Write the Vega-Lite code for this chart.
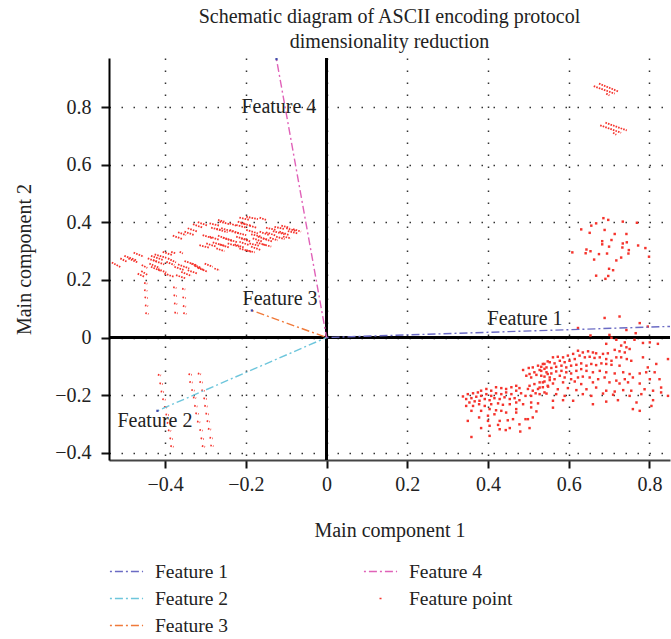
{
"$schema": "https://vega.github.io/schema/vega-lite/v6.json",
"width": 561, "height": 402,
"padding": {"left": 14, "top": 7, "right": 0, "bottom": 0},
"config": {"font": "Liberation Serif", "view": {"stroke": null},
  "axis": {"labelFont": "Liberation Serif", "titleFont": "Liberation Serif", "labelFontSize": 20, "titleFontSize": 20, "titleFontWeight": "normal", "labelColor": "#222", "titleColor": "#222", "grid": true, "gridDash": [1.5, 10.5], "gridColor": "#333", "gridWidth": 1.5, "tickWidth": 2, "tickSize": 8, "tickColor": "#111", "domainWidth": 2}},
"title": {"text": ["Schematic diagram of ASCII encoding protocol", "dimensionality reduction"], "fontSize": 20, "fontWeight": "normal", "font": "Liberation Serif", "color": "#222", "lineHeight": 25, "offset": 5},
"datasets": {
"vectors": [
{"feature":"Feature 1","x":0,"y":0},{"feature":"Feature 1","x":0.95,"y":0.043},
{"feature":"Feature 2","x":0,"y":0},{"feature":"Feature 2","x":-0.419,"y":-0.255},
{"feature":"Feature 3","x":0,"y":0},{"feature":"Feature 3","x":-0.185,"y":0.094},
{"feature":"Feature 4","x":0,"y":0},{"feature":"Feature 4","x":-0.124,"y":0.968}],
"tips": [{"x":-0.419,"y":-0.255},{"x":-0.185,"y":0.094},{"x":-0.124,"y":0.968}],
"labels": [{"label":"Feature 1","x":0.399,"y":0.066},{"label":"Feature 2","x":-0.518,"y":-0.29},{"label":"Feature 3","x":-0.208,"y":0.133},{"label":"Feature 4","x":-0.211,"y":0.803}],
"streaks": [
{"x":-0.532,"y":0.261,"x2":-0.511,"y2":0.245},{"x":-0.511,"y":0.275,"x2":-0.494,"y2":0.263},{"x":-0.501,"y":0.284,"x2":-0.472,"y2":0.269},{"x":-0.491,"y":0.275,"x2":-0.468,"y2":0.261},{"x":-0.478,"y":0.295,"x2":-0.453,"y2":0.281},{"x":-0.458,"y":0.252,"x2":-0.444,"y2":0.242},{"x":-0.443,"y":0.275,"x2":-0.418,"y2":0.263},{"x":-0.435,"y":0.284,"x2":-0.406,"y2":0.270},{"x":-0.430,"y":0.269,"x2":-0.402,"y2":0.254},{"x":-0.426,"y":0.289,"x2":-0.397,"y2":0.277},{"x":-0.439,"y":0.257,"x2":-0.414,"y2":0.242},{"x":-0.435,"y":0.246,"x2":-0.410,"y2":0.231},{"x":-0.418,"y":0.238,"x2":-0.397,"y2":0.226},{"x":-0.459,"y":0.231,"x2":-0.443,"y2":0.217},{"x":-0.468,"y":0.222,"x2":-0.451,"y2":0.211},{"x":-0.406,"y":0.298,"x2":-0.381,"y2":0.286},{"x":-0.393,"y":0.275,"x2":-0.373,"y2":0.261},{"x":-0.377,"y":0.246,"x2":-0.352,"y2":0.234},{"x":-0.368,"y":0.254,"x2":-0.340,"y2":0.240},{"x":-0.352,"y":0.266,"x2":-0.323,"y2":0.252},{"x":-0.335,"y":0.257,"x2":-0.311,"y2":0.242},{"x":-0.344,"y":0.234,"x2":-0.319,"y2":0.222},{"x":-0.360,"y":0.228,"x2":-0.335,"y2":0.214},{"x":-0.373,"y":0.217,"x2":-0.348,"y2":0.205},{"x":-0.319,"y":0.242,"x2":-0.294,"y2":0.228},{"x":-0.302,"y":0.257,"x2":-0.282,"y2":0.246},{"x":-0.278,"y":0.240,"x2":-0.265,"y2":0.234},{"x":-0.385,"y":0.298,"x2":-0.373,"y2":0.292},{"x":-0.364,"y":0.298,"x2":-0.356,"y2":0.292},{"x":-0.402,"y":0.222,"x2":-0.377,"y2":0.211},{"x":-0.397,"y":0.263,"x2":-0.377,"y2":0.252},{"x":-0.327,"y":0.249,"x2":-0.302,"y2":0.234},
{"x":-0.269,"y":0.409,"x2":-0.253,"y2":0.403},{"x":-0.216,"y":0.417,"x2":-0.191,"y2":0.409},{"x":-0.199,"y":0.420,"x2":-0.170,"y2":0.412},{"x":-0.166,"y":0.417,"x2":-0.150,"y2":0.409},{"x":-0.220,"y":0.403,"x2":-0.199,"y2":0.394},
{"x":-0.331,"y":0.394,"x2":-0.307,"y2":0.382},{"x":-0.319,"y":0.401,"x2":-0.294,"y2":0.389},{"x":-0.290,"y":0.397,"x2":-0.265,"y2":0.389},{"x":-0.265,"y":0.403,"x2":-0.240,"y2":0.394},{"x":-0.240,"y":0.397,"x2":-0.224,"y2":0.389},{"x":-0.224,"y":0.391,"x2":-0.199,"y2":0.382},{"x":-0.212,"y":0.397,"x2":-0.187,"y2":0.389},{"x":-0.191,"y":0.389,"x2":-0.174,"y2":0.382},{"x":-0.150,"y":0.382,"x2":-0.125,"y2":0.374},{"x":-0.129,"y":0.385,"x2":-0.104,"y2":0.377},{"x":-0.112,"y":0.389,"x2":-0.092,"y2":0.382},{"x":-0.100,"y":0.380,"x2":-0.075,"y2":0.370},
{"x":-0.352,"y":0.368,"x2":-0.327,"y2":0.356},{"x":-0.344,"y":0.380,"x2":-0.319,"y2":0.368},{"x":-0.286,"y":0.382,"x2":-0.261,"y2":0.374},{"x":-0.273,"y":0.377,"x2":-0.245,"y2":0.366},{"x":-0.261,"y":0.380,"x2":-0.232,"y2":0.368},{"x":-0.240,"y":0.374,"x2":-0.216,"y2":0.362},{"x":-0.228,"y":0.366,"x2":-0.199,"y2":0.356},{"x":-0.199,"y":0.374,"x2":-0.170,"y2":0.362},{"x":-0.187,"y":0.359,"x2":-0.162,"y2":0.351},{"x":-0.166,"y":0.368,"x2":-0.141,"y2":0.356},{"x":-0.150,"y":0.366,"x2":-0.125,"y2":0.354},{"x":-0.133,"y":0.370,"x2":-0.104,"y2":0.359},{"x":-0.117,"y":0.368,"x2":-0.092,"y2":0.356},{"x":-0.096,"y":0.370,"x2":-0.071,"y2":0.362},{"x":-0.083,"y":0.377,"x2":-0.063,"y2":0.368},
{"x":-0.381,"y":0.354,"x2":-0.356,"y2":0.342},{"x":-0.368,"y":0.366,"x2":-0.348,"y2":0.356},{"x":-0.307,"y":0.356,"x2":-0.282,"y2":0.345},{"x":-0.290,"y":0.351,"x2":-0.265,"y2":0.339},{"x":-0.269,"y":0.354,"x2":-0.245,"y2":0.342},{"x":-0.257,"y":0.347,"x2":-0.232,"y2":0.335},{"x":-0.245,"y":0.342,"x2":-0.220,"y2":0.331},{"x":-0.224,"y":0.351,"x2":-0.195,"y2":0.339},{"x":-0.212,"y":0.345,"x2":-0.187,"y2":0.333},{"x":-0.183,"y":0.345,"x2":-0.158,"y2":0.333},{"x":-0.170,"y":0.351,"x2":-0.145,"y2":0.339},{"x":-0.158,"y":0.345,"x2":-0.133,"y2":0.333},{"x":-0.141,"y":0.347,"x2":-0.121,"y2":0.338},{"x":-0.125,"y":0.351,"x2":-0.104,"y2":0.342},{"x":-0.108,"y":0.351,"x2":-0.088,"y2":0.345},
{"x":-0.315,"y":0.321,"x2":-0.290,"y2":0.312},{"x":-0.298,"y":0.327,"x2":-0.273,"y2":0.316},{"x":-0.282,"y":0.331,"x2":-0.253,"y2":0.319},{"x":-0.265,"y":0.324,"x2":-0.240,"y2":0.312},{"x":-0.245,"y":0.327,"x2":-0.216,"y2":0.316},{"x":-0.228,"y":0.324,"x2":-0.203,"y2":0.312},{"x":-0.216,"y":0.333,"x2":-0.191,"y2":0.321},{"x":-0.191,"y":0.327,"x2":-0.166,"y2":0.319},{"x":-0.174,"y":0.331,"x2":-0.150,"y2":0.321},{"x":-0.158,"y":0.324,"x2":-0.137,"y2":0.316},{"x":-0.187,"y":0.316,"x2":-0.162,"y2":0.304},{"x":-0.273,"y":0.310,"x2":-0.253,"y2":0.300},{"x":-0.216,"y":0.310,"x2":-0.187,"y2":0.298},{"x":-0.199,"y":0.304,"x2":-0.178,"y2":0.296},
{"x":0.675,"y":0.883,"x2":0.724,"y2":0.855},{"x":0.662,"y":0.874,"x2":0.714,"y2":0.848},{"x":0.693,"y":0.848,"x2":0.701,"y2":0.842},{"x":0.691,"y":0.747,"x2":0.744,"y2":0.720},{"x":0.678,"y":0.738,"x2":0.730,"y2":0.712},{"x":0.710,"y":0.712,"x2":0.718,"y2":0.705},
{"x":-0.452,"y":0.190,"x2":-0.444,"y2":0.187},{"x":-0.452,"y":0.165,"x2":-0.444,"y2":0.162},{"x":-0.451,"y":0.140,"x2":-0.443,"y2":0.137},{"x":-0.450,"y":0.112,"x2":-0.442,"y2":0.109},{"x":-0.449,"y":0.085,"x2":-0.441,"y2":0.082},
{"x":-0.380,"y":0.175,"x2":-0.372,"y2":0.172},{"x":-0.379,"y":0.147,"x2":-0.371,"y2":0.144},{"x":-0.378,"y":0.119,"x2":-0.370,"y2":0.116},{"x":-0.377,"y":0.087,"x2":-0.369,"y2":0.084},
{"x":-0.358,"y":0.170,"x2":-0.350,"y2":0.167},{"x":-0.357,"y":0.140,"x2":-0.349,"y2":0.137},{"x":-0.356,"y":0.110,"x2":-0.348,"y2":0.107},{"x":-0.355,"y":0.085,"x2":-0.347,"y2":0.082},
{"x":-0.418,"y":-0.129,"x2":-0.410,"y2":-0.132},{"x":-0.414,"y":-0.159,"x2":-0.406,"y2":-0.162},{"x":-0.411,"y":-0.187,"x2":-0.403,"y2":-0.190},{"x":-0.407,"y":-0.214,"x2":-0.399,"y2":-0.217},{"x":-0.403,"y":-0.241,"x2":-0.395,"y2":-0.244},{"x":-0.399,"y":-0.267,"x2":-0.391,"y2":-0.270},{"x":-0.396,"y":-0.296,"x2":-0.388,"y2":-0.299},{"x":-0.393,"y":-0.322,"x2":-0.385,"y2":-0.325},{"x":-0.389,"y":-0.350,"x2":-0.381,"y2":-0.353},{"x":-0.387,"y":-0.377,"x2":-0.379,"y2":-0.380},
{"x":-0.342,"y":-0.127,"x2":-0.334,"y2":-0.130},{"x":-0.340,"y":-0.154,"x2":-0.332,"y2":-0.157},{"x":-0.335,"y":-0.182,"x2":-0.327,"y2":-0.185},{"x":-0.331,"y":-0.208,"x2":-0.323,"y2":-0.211},{"x":-0.328,"y":-0.237,"x2":-0.320,"y2":-0.240},{"x":-0.325,"y":-0.263,"x2":-0.317,"y2":-0.266},{"x":-0.321,"y":-0.292,"x2":-0.313,"y2":-0.295},{"x":-0.315,"y":-0.321,"x2":-0.307,"y2":-0.324},{"x":-0.312,"y":-0.350,"x2":-0.304,"y2":-0.353},{"x":-0.309,"y":-0.377,"x2":-0.301,"y2":-0.380},
{"x":-0.319,"y":-0.125,"x2":-0.311,"y2":-0.128},{"x":-0.315,"y":-0.154,"x2":-0.307,"y2":-0.157},{"x":-0.310,"y":-0.183,"x2":-0.302,"y2":-0.186},{"x":-0.305,"y":-0.211,"x2":-0.297,"y2":-0.214},{"x":-0.303,"y":-0.237,"x2":-0.295,"y2":-0.240},{"x":-0.300,"y":-0.264,"x2":-0.292,"y2":-0.267},{"x":-0.297,"y":-0.290,"x2":-0.289,"y2":-0.293},{"x":-0.294,"y":-0.317,"x2":-0.286,"y2":-0.320},{"x":-0.290,"y":-0.348,"x2":-0.282,"y2":-0.351},{"x":-0.288,"y":-0.375,"x2":-0.280,"y2":-0.378}
],
"points": [
{"x":0.686,"y":0.415},{"x":0.698,"y":0.409},{"x":0.668,"y":0.397},{"x":0.656,"y":0.389},{"x":0.631,"y":0.376},{"x":0.652,"y":0.364},{"x":0.689,"y":0.374},{"x":0.734,"y":0.403},{"x":0.769,"y":0.399},{"x":0.714,"y":0.360},{"x":0.743,"y":0.360},{"x":0.683,"y":0.335},{"x":0.706,"y":0.339},{"x":0.683,"y":0.324},{"x":0.700,"y":0.316},{"x":0.734,"y":0.327},{"x":0.744,"y":0.331},{"x":0.733,"y":0.313},{"x":0.772,"y":0.320},{"x":0.790,"y":0.311},{"x":0.644,"y":0.306},{"x":0.654,"y":0.300},{"x":0.609,"y":0.296},{"x":0.642,"y":0.293},{"x":0.675,"y":0.290},{"x":0.695,"y":0.292},{"x":0.749,"y":0.304},{"x":0.748,"y":0.292},{"x":0.730,"y":0.278},{"x":0.718,"y":0.268},{"x":0.663,"y":0.271},{"x":0.799,"y":0.281},{"x":0.700,"y":0.239},{"x":0.710,"y":0.234},{"x":0.668,"y":0.215},{"x":0.691,"y":0.204},{"x":0.698,"y":0.214},
{"x":0.548,"y":-0.083},{"x":0.536,"y":-0.092},{"x":0.524,"y":-0.098},{"x":0.511,"y":-0.104},{"x":0.501,"y":-0.106},{"x":0.540,"y":-0.109},{"x":0.528,"y":-0.113},{"x":0.515,"y":-0.121},{"x":0.503,"y":-0.127},{"x":0.487,"y":-0.113},{"x":0.548,"y":-0.127},{"x":0.532,"y":-0.133},{"x":0.520,"y":-0.130},{"x":0.507,"y":-0.139},{"x":0.495,"y":-0.133},{"x":0.553,"y":-0.148},{"x":0.540,"y":-0.153},{"x":0.528,"y":-0.156},{"x":0.515,"y":-0.162},{"x":0.503,"y":-0.168},{"x":0.548,"y":-0.168},{"x":0.536,"y":-0.173},{"x":0.524,"y":-0.179},{"x":0.511,"y":-0.185},{"x":0.499,"y":-0.179},{"x":0.540,"y":-0.191},{"x":0.528,"y":-0.197},{"x":0.518,"y":-0.194},{"x":0.507,"y":-0.203},
{"x":0.338,"y":-0.205},{"x":0.350,"y":-0.197},{"x":0.363,"y":-0.194},{"x":0.375,"y":-0.191},{"x":0.383,"y":-0.185},{"x":0.396,"y":-0.179},{"x":0.408,"y":-0.185},{"x":0.420,"y":-0.173},{"x":0.433,"y":-0.176},{"x":0.445,"y":-0.179},{"x":0.458,"y":-0.173},{"x":0.470,"y":-0.168},{"x":0.478,"y":-0.176},{"x":0.346,"y":-0.214},{"x":0.359,"y":-0.211},{"x":0.371,"y":-0.206},{"x":0.383,"y":-0.203},{"x":0.396,"y":-0.197},{"x":0.408,"y":-0.203},{"x":0.420,"y":-0.194},{"x":0.433,"y":-0.197},{"x":0.445,"y":-0.191},{"x":0.458,"y":-0.197},{"x":0.470,"y":-0.185},{"x":0.482,"y":-0.194},{"x":0.493,"y":-0.203},{"x":0.354,"y":-0.226},{"x":0.367,"y":-0.222},{"x":0.379,"y":-0.220},{"x":0.392,"y":-0.214},{"x":0.404,"y":-0.218},{"x":0.416,"y":-0.211},{"x":0.429,"y":-0.214},{"x":0.441,"y":-0.208},{"x":0.454,"y":-0.214},{"x":0.466,"y":-0.211},{"x":0.478,"y":-0.218},{"x":0.346,"y":-0.238},{"x":0.363,"y":-0.238},{"x":0.378,"y":-0.232},{"x":0.392,"y":-0.238},{"x":0.408,"y":-0.232},{"x":0.425,"y":-0.229},{"x":0.437,"y":-0.234},{"x":0.454,"y":-0.232},{"x":0.470,"y":-0.226},{"x":0.487,"y":-0.232},{"x":0.507,"y":-0.226},{"x":0.524,"y":-0.229},{"x":0.359,"y":-0.255},{"x":0.383,"y":-0.255},{"x":0.404,"y":-0.249},{"x":0.420,"y":-0.253},{"x":0.433,"y":-0.255},{"x":0.470,"y":-0.249},{"x":0.507,"y":-0.243},{"x":0.520,"y":-0.257},{"x":0.378,"y":-0.278},{"x":0.400,"y":-0.272},{"x":0.416,"y":-0.267},{"x":0.445,"y":-0.261},{"x":0.470,"y":-0.261},{"x":0.493,"y":-0.284},{"x":0.511,"y":-0.278},{"x":0.350,"y":-0.290},{"x":0.400,"y":-0.290},{"x":0.429,"y":-0.290},{"x":0.449,"y":-0.288},{"x":0.462,"y":-0.284},{"x":0.499,"y":-0.284},{"x":0.404,"y":-0.307},{"x":0.425,"y":-0.304},{"x":0.478,"y":-0.302},{"x":0.383,"y":-0.315},{"x":0.429,"y":-0.319},{"x":0.444,"y":-0.322},{"x":0.454,"y":-0.315},{"x":0.503,"y":-0.315},{"x":0.480,"y":-0.327},{"x":0.359,"y":-0.346},{"x":0.404,"y":-0.342},
{"x":0.689,"y":0.068},{"x":0.726,"y":0.073},{"x":0.776,"y":0.050},{"x":0.796,"y":0.038},{"x":0.623,"y":0.033},{"x":0.766,"y":0.015},{"x":0.654,"y":0.007},{"x":0.701,"y":0.009},{"x":0.743,"y":0.026},
{"x":0.706,"y":-0.001},{"x":0.718,"y":-0.008},{"x":0.693,"y":-0.022},{"x":0.739,"y":-0.017},{"x":0.763,"y":-0.008},{"x":0.784,"y":-0.019},{"x":0.801,"y":-0.017},{"x":0.821,"y":-0.022},{"x":0.730,"y":-0.028},
{"x":0.743,"y":-0.034},{"x":0.751,"y":-0.040},{"x":0.714,"y":-0.043},{"x":0.726,"y":-0.048},{"x":0.739,"y":-0.052},{"x":0.697,"y":-0.055},{"x":0.685,"y":-0.057},{"x":0.668,"y":-0.055},{"x":0.660,"y":-0.052},{"x":0.648,"y":-0.048},{"x":0.635,"y":-0.052},{"x":0.623,"y":-0.046},{"x":0.611,"y":-0.057},{"x":0.598,"y":-0.063},{"x":0.586,"y":-0.069},{"x":0.573,"y":-0.067},{"x":0.561,"y":-0.069},{"x":0.677,"y":-0.069},{"x":0.664,"y":-0.071},{"x":0.652,"y":-0.067},{"x":0.640,"y":-0.069},{"x":0.627,"y":-0.063},{"x":0.615,"y":-0.075},{"x":0.602,"y":-0.081},{"x":0.590,"y":-0.086},{"x":0.578,"y":-0.081},{"x":0.565,"y":-0.090},{"x":0.553,"y":-0.086},{"x":0.540,"y":-0.092},{"x":0.693,"y":-0.075},{"x":0.706,"y":-0.081},{"x":0.718,"y":-0.069},{"x":0.730,"y":-0.069},{"x":0.744,"y":-0.075},{"x":0.755,"y":-0.081},{"x":0.784,"y":-0.069},{"x":0.796,"y":-0.104},{"x":0.817,"y":-0.092},{"x":0.846,"y":-0.075},
{"x":0.532,"y":-0.102},{"x":0.545,"y":-0.104},{"x":0.557,"y":-0.106},{"x":0.569,"y":-0.102},{"x":0.582,"y":-0.098},{"x":0.594,"y":-0.104},{"x":0.606,"y":-0.098},{"x":0.619,"y":-0.095},{"x":0.631,"y":-0.090},{"x":0.644,"y":-0.098},{"x":0.656,"y":-0.092},{"x":0.668,"y":-0.096},{"x":0.681,"y":-0.090},{"x":0.693,"y":-0.092},{"x":0.706,"y":-0.095},{"x":0.726,"y":-0.098},{"x":0.532,"y":-0.116},{"x":0.545,"y":-0.121},{"x":0.557,"y":-0.125},{"x":0.569,"y":-0.118},{"x":0.582,"y":-0.116},{"x":0.594,"y":-0.121},{"x":0.606,"y":-0.125},{"x":0.619,"y":-0.116},{"x":0.631,"y":-0.110},{"x":0.644,"y":-0.116},{"x":0.660,"y":-0.121},{"x":0.677,"y":-0.116},{"x":0.693,"y":-0.121},{"x":0.714,"y":-0.125},{"x":0.735,"y":-0.121},{"x":0.751,"y":-0.127},{"x":0.776,"y":-0.125},{"x":0.792,"y":-0.121},{"x":0.813,"y":-0.121},{"x":0.540,"y":-0.136},{"x":0.553,"y":-0.139},{"x":0.565,"y":-0.145},{"x":0.578,"y":-0.133},{"x":0.590,"y":-0.139},{"x":0.606,"y":-0.145},{"x":0.623,"y":-0.139},{"x":0.635,"y":-0.136},{"x":0.652,"y":-0.139},{"x":0.673,"y":-0.145},{"x":0.689,"y":-0.139},{"x":0.718,"y":-0.150},{"x":0.739,"y":-0.145},{"x":0.759,"y":-0.139},{"x":0.801,"y":-0.145},{"x":0.825,"y":-0.145},{"x":0.536,"y":-0.156},{"x":0.561,"y":-0.160},{"x":0.586,"y":-0.156},{"x":0.615,"y":-0.153},{"x":0.631,"y":-0.162},{"x":0.660,"y":-0.156},{"x":0.701,"y":-0.156},{"x":0.726,"y":-0.160},{"x":0.747,"y":-0.156},{"x":0.776,"y":-0.160},
{"x":0.528,"y":-0.174},{"x":0.549,"y":-0.171},{"x":0.573,"y":-0.180},{"x":0.598,"y":-0.176},{"x":0.619,"y":-0.183},{"x":0.644,"y":-0.180},{"x":0.668,"y":-0.174},{"x":0.693,"y":-0.185},{"x":0.714,"y":-0.188},{"x":0.735,"y":-0.183},{"x":0.755,"y":-0.185},{"x":0.788,"y":-0.180},{"x":0.809,"y":-0.185},{"x":0.829,"y":-0.174},{"x":0.545,"y":-0.195},{"x":0.569,"y":-0.197},{"x":0.590,"y":-0.203},{"x":0.635,"y":-0.197},{"x":0.656,"y":-0.203},{"x":0.685,"y":-0.195},{"x":0.710,"y":-0.199},{"x":0.751,"y":-0.203},{"x":0.780,"y":-0.197},{"x":0.829,"y":-0.191},{"x":0.846,"y":-0.203},{"x":0.561,"y":-0.220},{"x":0.586,"y":-0.218},{"x":0.611,"y":-0.220},{"x":0.660,"y":-0.232},{"x":0.693,"y":-0.223},{"x":0.722,"y":-0.218},{"x":0.768,"y":-0.226},{"x":0.809,"y":-0.218},{"x":0.561,"y":-0.244},{"x":0.759,"y":-0.249},{"x":0.776,"y":-0.255},{"x":0.805,"y":-0.238}
]
},
"layer": [
{"data": {"name": "vectors"}, "mark": {"type": "rule", "color": "black", "strokeWidth": 2}, "encoding": {"x": {"datum": 0, "type": "quantitative", "scale": {"domain": [-0.539, 0.851], "nice": false, "zero": false}, "axis": {"title": "Main component 1", "values": [-0.4,-0.2,0,0.2,0.4,0.6,0.8], "format": ".1~f", "domainColor": "#444", "labelPadding": 6, "titlePadding": 26}}}},
{"data": {"name": "vectors"}, "mark": {"type": "rule", "color": "black", "strokeWidth": 2}, "encoding": {"y": {"datum": 0, "type": "quantitative", "scale": {"domain": [-0.426, 0.972], "nice": false, "zero": false}, "axis": {"title": "Main component 2", "values": [-0.4,-0.2,0,0.2,0.4,0.6,0.8], "format": ".1~f", "domainColor": "#000", "labelPadding": 10, "titlePadding": 20}}}},
{"data": {"name": "streaks"}, "mark": {"type": "rule", "color": "#f5342d", "strokeWidth": 1.8, "strokeDash": [1.6, 1.1], "clip": true}, "encoding": {"x": {"field": "x", "type": "quantitative"}, "y": {"field": "y", "type": "quantitative"}, "x2": {"field": "x2"}, "y2": {"field": "y2"}}},
{"data": {"name": "points"}, "mark": {"type": "point", "shape": "square", "filled": true, "size": 6, "opacity": 1, "color": "#f5342d", "clip": true}, "encoding": {"x": {"field": "x", "type": "quantitative"}, "y": {"field": "y", "type": "quantitative"}}},
{"data": {"name": "vectors"}, "mark": {"type": "line", "strokeWidth": 1.4, "clip": true}, "encoding": {"x": {"field": "x", "type": "quantitative"}, "y": {"field": "y", "type": "quantitative"}, "detail": {"field": "feature"},
  "color": {"field": "feature", "type": "nominal", "title": null, "scale": {"domain": ["Feature 1", "Feature 2", "Feature 3", "Feature 4", "Feature point"], "range": ["#6b6bc4", "#6ec6dc", "#f07a3a", "#e062b8", "#f5342d"]},
    "legend": {"title": null, "orient": "none", "legendX": 0, "legendY": 496, "columns": 2, "columnPadding": 131, "rowPadding": -8, "symbolSize": 1100, "symbolType": "stroke", "symbolStrokeWidth": 1.6, "labelFont": "Liberation Serif", "labelFontSize": 19.5, "labelColor": "#222", "labelOffset": 11, "labelLimit": 300}},
  "strokeDash": {"field": "feature", "type": "nominal", "title": null, "scale": {"domain": ["Feature 1", "Feature 2", "Feature 3", "Feature 4", "Feature point"], "range": [[2, 3, 8, 3], [2, 3, 8, 3], [2, 3, 8, 3], [2, 3, 8, 3], [0, 15.6, 2, 100]]},
    "legend": {"title": null, "orient": "none", "legendX": 0, "legendY": 496, "columns": 2, "columnPadding": 131, "rowPadding": -8, "symbolSize": 1100, "symbolType": "stroke", "symbolStrokeWidth": 1.6, "labelFont": "Liberation Serif", "labelFontSize": 19.5, "labelColor": "#222", "labelOffset": 11, "labelLimit": 300}}}},
{"data": {"name": "tips"}, "mark": {"type": "point", "shape": "square", "filled": true, "size": 5, "color": "#4048a8", "opacity": 1, "clip": true}, "encoding": {"x": {"field": "x", "type": "quantitative"}, "y": {"field": "y", "type": "quantitative"}}},
{"data": {"name": "labels"}, "mark": {"type": "text", "align": "left", "baseline": "middle", "font": "Liberation Serif", "fontSize": 20, "color": "#222"}, "encoding": {"x": {"field": "x", "type": "quantitative"}, "y": {"field": "y", "type": "quantitative"}, "text": {"field": "label"}}}
]
}
